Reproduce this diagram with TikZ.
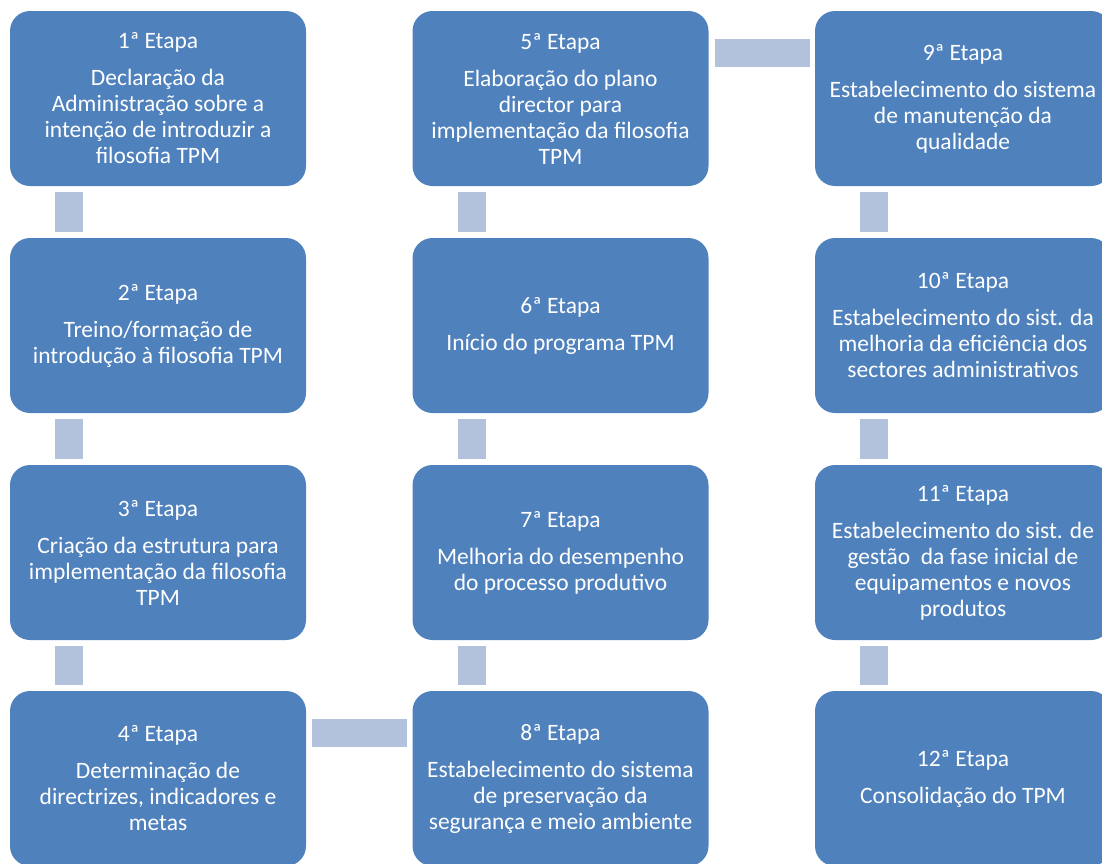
\documentclass[tikz,border=0pt]{standalone}
\usepackage{fontspec}
\setmainfont{Carlito}
\definecolor{stagefill}{HTML}{4F81BD}
\definecolor{linkfill}{HTML}{B3C2DC}
\begin{document}
\begin{tikzpicture}[x=1pt,y=-1pt,
  stage/.style={rectangle, rounded corners=20pt, fill=stagefill, text=white,
    minimum width=296pt, minimum height=175pt, inner sep=0pt, align=center,
    font=\fontsize{23.5}{26}\selectfont},
  vlink/.style={draw=linkfill, line width=28pt, shorten <=6pt, shorten >=6pt},
  hlink/.style={draw=linkfill, line width=28pt, shorten <=6pt, shorten >=5pt}]
\useasboundingbox (0,0) rectangle (1102,863);
\clip (0,0) rectangle (1102,863);

% first column
\node[stage] (s1) at (158,98.5) {1ª Etapa\\[11pt]Declaração da\\Administração sobre a\\intenção de introduzir a\\filosofia TPM};
\node[stage] (s2) at (158,325.5) {2ª Etapa\\[11pt]Treino/formação de\\introdução à filosofia TPM};
\node[stage] (s3) at (158,552.5) {3ª Etapa\\[11pt]Criação da estrutura para\\implementação da filosofia\\TPM};
\node[stage] (s4) at (158,778.5) {4ª Etapa\\[11pt]Determinação de\\directrizes, indicadores e\\metas};

% second column
\node[stage] (s5) at (560.5,98.5) {5ª Etapa\\[11pt]Elaboração do plano\\director para\\implementação da filosofia\\TPM};
\node[stage] (s6) at (560.5,325.5) {6ª Etapa\\[11pt]Início do programa TPM};
\node[stage] (s7) at (560.5,552.5) {7ª Etapa\\[11pt]Melhoria do desempenho\\do processo produtivo};
\node[stage] (s8) at (560.5,778.5) {8ª Etapa\\[11pt]Estabelecimento do sistema\\de preservação da\\segurança e meio ambiente};

% third column
\node[stage] (s9) at (963,98.5) {9ª Etapa\\[11pt]Estabelecimento do sistema\\de manutenção da\\qualidade};
\node[stage] (s10) at (963,325.5) {10ª Etapa\\[11pt]Estabelecimento do sist. da\\melhoria da eficiência dos\\sectores administrativos};
\node[stage] (s11) at (963,552.5) {11ª Etapa\\[11pt]Estabelecimento do sist. de\\gestão \ da fase inicial de\\equipamentos e novos\\produtos};
\node[stage] (s12) at (963,778.5) {12ª Etapa\\[11pt]Consolidação do TPM};

% links down each column
\foreach \a/\b in {s1/s2,s2/s3,s3/s4,s5/s6,s6/s7,s7/s8,s9/s10,s10/s11,s11/s12}
  \draw[vlink] ([xshift=-89pt]\a.south) -- ([xshift=-89pt]\b.north);

% links across columns, level with the stage titles
\draw[hlink] ([yshift=45.5pt]s4.east) -- ([yshift=45.5pt]s8.west);
\draw[hlink] ([yshift=45.5pt]s5.east) -- ([yshift=45.5pt]s9.west);
\end{tikzpicture}
\end{document}
